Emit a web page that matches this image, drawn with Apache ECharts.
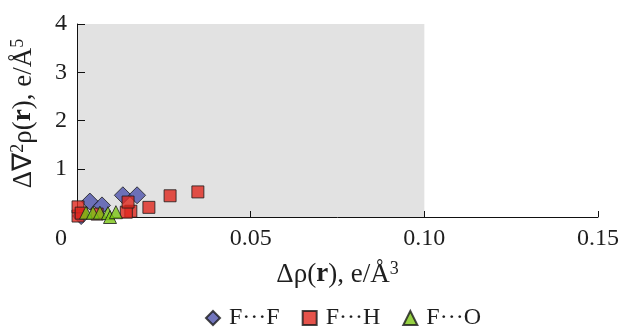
<!DOCTYPE html>
<html><head><meta charset="utf-8">
<script src="https://cdn.jsdelivr.net/npm/echarts@6/dist/echarts.min.js"></script>
<style>html,body{margin:0;padding:0;background:#fff}#c{width:622px;height:329px}</style>
</head><body><div id="c"></div>
<script>
const seriesNames = ['F···F', 'F···H', 'F···O'];
const ffData = [[0.0012,0.02],[0.0037,0.32],[0.0072,0.24],[0.0132,0.45],[0.0173,0.45]];
const fhData = [[0.0003,0.02],[0.0003,0.21],[0.0012,0.08],[0.0058,0.06],[0.0155,0.12],[0.0142,0.10],[0.0147,0.31],[0.0207,0.20],[0.0268,0.44],[0.0348,0.52]];
const foData = [[0.0026,0.09],[0.0046,0.09],[0.0066,0.09],[0.0089,0.08],[0.0095,0.0],[0.0112,0.10]];
const xTicks = [0, 0.05, 0.10, 0.15];
const yTicks = [1, 2, 3, 4];
const shadedBox = [[0, 0], [0.10, 4]];

const font = '"Liberation Serif", "Times New Roman", serif';
const chart = echarts.init(document.getElementById('c'));
const border = {borderColor:'#1a1a1a', borderWidth:1};
const txt = '#1e1e1e';
chart.setOption({
  animation:false,
  textStyle:{fontFamily:font},
  grid:{left:77, right:24, top:24, bottom:112, containLabel:false},
  legend:{
    top:301, left:200, itemGap:22, itemWidth:14, itemHeight:14,
    textStyle:{fontFamily:font, fontSize:24, color:txt, padding:[0,0,0,4]},
    data:[{name:seriesNames[0], icon:'diamond'},{name:seriesNames[1], icon:'rect'},{name:seriesNames[2], icon:'triangle'}]
  },
  xAxis:{
    type:'value', min:0, max:0.15, interval:0.05, z:1,
    axisLine:{show:true, onZero:false, lineStyle:{color:'#111', width:1}},
    axisTick:{show:true, inside:true, length:6, lineStyle:{color:'#111'}},
    splitLine:{show:false},
    axisLabel:{
      margin:10, color:txt, fontFamily:font, fontSize:24,
      formatter:function(v){
        const i = xTicks.findIndex(t=>Math.abs(t-v)<1e-9);
        if(i<0) return '';
        if(i===0) return '{z|0}';
        return '{t|' + xTicks[i].toFixed(2) + '}';
      },
      rich:{z:{fontFamily:font,fontSize:24,color:txt,padding:[0,32,0,0]}, t:{fontFamily:font,fontSize:24,color:txt}}
    },
    name:'{n|Δρ(}{b|r}{n|), e/Å}{s|3}',
    nameLocation:'middle', nameGap:43,
    nameTextStyle:{rich:{
      n:{fontFamily:font,fontSize:27,color:txt},
      b:{fontFamily:font,fontSize:27,fontWeight:'bold',color:txt},
      s:{fontFamily:font,fontSize:18,color:txt,padding:[0,0,11,0]}
    }}
  },
  yAxis:{
    type:'value', min:0, max:4, interval:1, z:1,
    axisLine:{show:true, lineStyle:{color:'#111', width:1}},
    axisTick:{show:true, inside:true, length:8, lineStyle:{color:'#111'}},
    splitLine:{show:false},
    axisLabel:{
      margin:10, color:txt, fontFamily:font, fontSize:24,
      formatter:function(v){ return yTicks.indexOf(v)>=0 ? String(v) : ''; }
    },
    name:'{n|Δ∇}{s|2}{n|ρ(}{b|r}{n|), e/Å}{s|5}',
    nameLocation:'middle', nameGap:39, nameRotate:90,
    nameTextStyle:{padding:[0,0,0,14], rich:{
      n:{fontFamily:font,fontSize:27,color:txt},
      b:{fontFamily:font,fontSize:27,fontWeight:'bold',color:txt},
      s:{fontFamily:font,fontSize:18,color:txt,padding:[0,0,11,0]}
    }}
  },
  series:[
    {name:'shade', type:'scatter', data:[], z:0, silent:true,
     markArea:{silent:true, itemStyle:{color:'#e2e2e2'}, data:[[{coord:shadedBox[0]},{coord:shadedBox[1]}]]}},
    {name:seriesNames[0], type:'scatter', symbol:'diamond', symbolSize:17, data:ffData, z:3,
     itemStyle:Object.assign({color:'#4f54ad'},border)},
    {name:seriesNames[1], type:'scatter', symbol:'rect', symbolSize:12, data:fhData, z:4,
     itemStyle:Object.assign({color:'#e0281e'},border)},
    {name:seriesNames[2], type:'scatter', symbol:'triangle', symbolSize:13, data:foData, z:5,
     itemStyle:Object.assign({color:'#7cc614'},border)}
  ]
});
</script></body></html>
